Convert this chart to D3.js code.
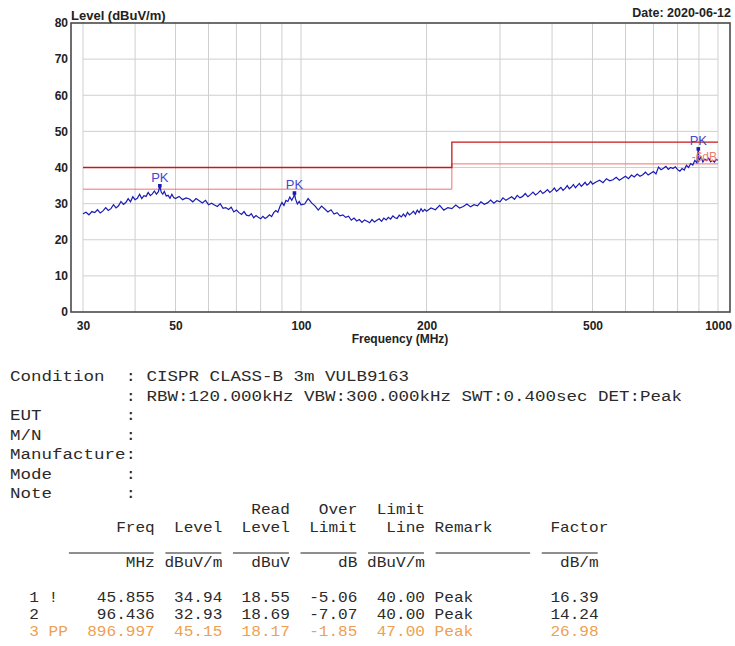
<!DOCTYPE html>
<html>
<head>
<meta charset="utf-8">
<script src="https://cdn.jsdelivr.net/npm/d3@7"></script>
<style>
  body { margin: 0; background: #fff; }
  svg { display: block; }
</style>
</head>
<body>
<svg id="chart" width="735" height="646"></svg>
<script>
// measured trace, [MHz, dBuV/m]
const trace = [
[30,27.2],[30.5,27.6],[31,26.9],[31.5,27.8],[32,27.5],[32.5,28.3],[33,27.4],[33.5,28.0],[34,28.9],[34.5,28.1],[35,28.6],[35.5,29.7],[36,28.8],[36.5,29.4],[37,30.6],[37.5,29.8],[38,30.3],[38.5,31.4],[39,30.5],[39.5,31.9],[40,31.1],[40.5,31.5],[41,32.6],[41.5,31.4],[42,32.2],[42.5,32.0],[43,33.1],[43.5,32.2],[44,32.7],[44.5,33.5],[45,32.6],[45.5,33.3],[45.855,34.94],[46.2,33.2],[46.6,32.6],[47,33.4],[47.5,32.1],[48,32.3],[48.5,31.5],[49,32.6],[49.5,31.7],[50,31.4],
[51,32.0],[52,31.1],[53,31.6],[54,31.3],[55,30.5],[56,31.4],[57,30.8],[58,30.2],[59,30.9],[60,29.7],[61,30.1],[62,29.6],[63,29.2],[64,30.0],[65,28.7],[66,28.9],[67,28.4],[68,29.0],[69,27.7],[70,28.2],[71,27.5],[72,27.0],[73,27.8],[74,26.8],[75,26.6],[76,27.2],[77,26.1],[78,26.7],[79,26.2],[80,25.8],[81,26.5],[82,25.9],[83,26.3],[84,26.9],[85,26.4],[86,27.5],[87,28.1],[88,27.6],[89,29.2],[90,30.3],[91,29.5],[92,30.9],[93,30.6],[94,31.8],[95,30.9],[96,31.9],[96.436,32.93],[97,31.3],[98,29.9],[99,30.6],[100,29.7],
[102,29.9],[104,31.4],[106,30.2],[108,29.4],[110,28.2],[112,29.3],[114,28.5],[116,27.7],[118,28.3],[120,27.1],[122,27.5],[124,26.6],[126,26.9],[128,26.2],[130,26.5],[132,25.4],[134,26.0],[136,25.2],[138,25.6],[140,24.8],[142,25.5],[144,25.1],[146,24.7],[148,25.6],[150,24.9],[152,25.4],[154,25.8],[156,25.1],[158,26.0],[160,25.5],[162,26.2],[164,25.7],[166,26.6],[168,26.1],[170,25.9],[172,26.8],[174,26.3],[176,27.1],[178,26.4],[180,27.6],[182,26.9],[184,27.3],[186,27.9],[188,27.1],[190,28.2],[192,27.5],[194,28.6],[196,27.8],[198,28.4],[200,27.9],
[205,28.8],[210,28.3],[215,29.5],[220,28.2],[225,28.9],[230,28.6],[235,29.6],[240,28.8],[245,29.2],[250,29.9],[255,29.1],[260,29.7],[265,29.4],[270,30.5],[275,29.8],[280,30.2],[285,31.0],[290,30.1],[295,30.8],[300,30.5],[305,31.6],[310,30.9],[315,31.4],[320,31.9],[325,31.2],[330,32.3],[335,31.6],[340,32.0],[345,32.8],[350,31.9],[355,32.5],[360,33.2],[365,32.4],[370,32.9],[375,33.6],[380,32.8],[385,33.3],[390,33.9],[395,33.1],[400,33.6],[405,34.3],[410,33.4],[415,33.9],[420,34.5],[425,33.7],[430,34.2],[435,35.0],[440,34.1],[445,34.6],[450,35.3],[455,34.4],[460,35.0],[465,35.6],[470,34.8],[475,35.3],[480,35.9],[485,35.1],[490,35.5],[495,36.2],[500,35.4],
[510,36.0],[520,36.5],[530,35.8],[540,36.9],[550,36.3],[560,36.6],[570,37.3],[580,36.5],[590,37.0],[600,37.6],[610,36.9],[620,37.9],[630,37.4],[640,38.2],[650,37.6],[660,38.0],[670,38.7],[680,37.9],[690,38.4],[700,38.9],[710,38.2],[720,40.1],[730,39.4],[740,39.8],[750,40.3],[760,39.5],[770,40.0],[780,39.7],[790,40.2],[800,39.4],[810,39.0],[820,39.7],[830,39.3],[840,40.6],[850,40.0],[860,41.1],[870,40.7],[880,42.0],[890,41.3],[896.997,45.15],[900,41.8],[910,42.9],[920,41.5],[930,42.3],[940,41.9],[950,42.6],[960,41.6],[970,42.0],[980,41.5],[990,42.2],[1000,42.0]
];

const limitLine  = [[30,40],[230,40],[230,47],[1000,47]];
const marginLine = [[30,34],[230,34],[230,41],[1000,41]];

const xTicks   = [30,50,100,200,500,1000];
const xGrid    = [30,40,50,60,70,80,90,100,200,300,400,500,600,700,800,900,1000];
const yTicks   = [0,10,20,30,40,50,60,70,80];

const headerLines = [
  "Condition  : CISPR CLASS-B 3m VULB9163",
  "           : RBW:120.000kHz VBW:300.000kHz SWT:0.400sec DET:Peak",
  "EUT        :",
  "M/N        :",
  "Manufacture:",
  "Mode       :",
  "Note       :"
];
const tableHead = [
  "                         Read   Over  Limit",
  "           Freq  Level  Level  Limit   Line Remark      Factor",
  "",
  "            MHz dBuV/m   dBuV     dB dBuV/m              dB/m"
];
const rows = [
  {no:"1", flag:"!",  freq:45.855,  level:34.94, read:18.55, over:-5.06, limit:40.00, remark:"Peak", factor:16.39},
  {no:"2", flag:"",   freq:96.436,  level:32.93, read:18.69, over:-7.07, limit:40.00, remark:"Peak", factor:14.24},
  {no:"3", flag:"PP", freq:896.997, level:45.15, read:18.17, over:-1.85, limit:47.00, remark:"Peak", factor:26.98}
];

const svg = d3.select("#chart");
const pLeft = 71, pRight = 730, pTop = 23, pBottom = 312;

const x = d3.scaleLog().domain([30,1000]).range([83,718]);
const y = d3.scaleLinear().domain([0,80]).range([pBottom,pTop]);

// grid
svg.append("g").selectAll("line").data(xGrid).join("line")
   .attr("x1", d => x(d)).attr("x2", d => x(d))
   .attr("y1", pTop).attr("y2", pBottom)
   .attr("stroke", "#cfcfcf").attr("stroke-width", 1);
svg.append("g").selectAll("line").data(yTicks.slice(1,-1)).join("line")
   .attr("x1", x(30)).attr("x2", x(1000))
   .attr("y1", d => y(d)).attr("y2", d => y(d))
   .attr("stroke", "#cfcfcf").attr("stroke-width", 1);

// frame
svg.append("rect")
   .attr("x", pLeft).attr("y", pTop)
   .attr("width", pRight-pLeft).attr("height", pBottom-pTop)
   .attr("fill", "none").attr("stroke", "#4a4a4a").attr("stroke-width", 1.6);

const line = d3.line().x(d => x(d[0])).y(d => y(d[1]));

svg.append("path").datum(marginLine)
   .attr("d", line).attr("fill","none")
   .attr("stroke", "#ec7272").attr("stroke-width", 1);
svg.append("path").datum(limitLine)
   .attr("d", line).attr("fill","none")
   .attr("stroke", "#c81818").attr("stroke-width", 1.3);

svg.append("path").datum(trace)
   .attr("d", line).attr("fill","none")
   .attr("stroke", "#1a1ab4").attr("stroke-width", 1.2);

// peak markers
const pk = svg.append("g").selectAll("g").data(rows).join("g")
   .attr("transform", d => `translate(${x(d.freq)},${y(d.level)})`);
pk.append("rect").attr("x",-1.8).attr("y",-1.8).attr("width",3.6).attr("height",3.6)
   .attr("fill","#1a1ab4");
pk.append("text").attr("y",-4).attr("text-anchor","middle")
   .style("font-family","'Liberation Sans', Arial, sans-serif")
   .style("font-size","13px").attr("fill","#4646d2")
   .text("PK");

svg.append("text")
   .attr("x", x(1000) - 1).attr("y", y(marginLine[3][1]) - 3)
   .attr("text-anchor","end")
   .style("font-family","'Liberation Sans', Arial, sans-serif")
   .style("font-size","12px").attr("fill","#f07a6a")
   .text("-6dB");

// axes
const axisFont = g => g.selectAll("text")
   .style("font-family","'Liberation Sans', Arial, sans-serif")
   .style("font-size","12px").style("font-weight","bold").attr("fill","#222");

svg.append("g").attr("transform", `translate(${pLeft},0)`)
   .call(d3.axisLeft(y).tickValues(yTicks).tickSize(0).tickPadding(3))
   .call(g => g.select(".domain").remove())
   .call(axisFont);

svg.append("g").attr("transform", `translate(0,${pBottom})`)
   .call(d3.axisBottom(x).tickValues(xTicks).tickFormat(d3.format("d")).tickSize(0).tickPadding(9.5))
   .call(g => g.select(".domain").remove())
   .call(axisFont);

const bold = s => s.style("font-family","'Liberation Sans', Arial, sans-serif")
                   .style("font-weight","bold").attr("fill","#222");

svg.append("text").attr("x", 71).attr("y", 19.5)
   .style("font-size","13px").call(bold).text("Level (dBuV/m)");
svg.append("text").attr("x", 731).attr("y", 17).attr("text-anchor","end")
   .style("font-size","12.5px").call(bold).text("Date: 2020-06-12");
svg.append("text").attr("x", 400).attr("y", 343).attr("text-anchor","middle")
   .style("font-size","12px").call(bold).text("Frequency (MHz)");

// text report below the plot
const mono = "'Liberation Mono', 'Courier New', monospace";
const x0 = 10;

function monoLine(str, yPos, cw, size, color) {
  if (!str.length) return;
  svg.append("text")
     .attr("x", x0).attr("y", yPos)
     .attr("xml:space","preserve")
     .style("white-space","pre")
     .style("font-family", mono).style("font-size", size + "px")
     .attr("fill", color)
     .attr("textLength", str.length * cw)
     .attr("lengthAdjust","spacingAndGlyphs")
     .text(str);
}

const headerY = [381, 400.5, 420, 439.5, 459, 478.5, 498];
headerLines.forEach((s,i) => monoLine(s, headerY[i], 10.5, 14.5, "#2a2a2a"));

const cw = 9.65;
const headY = [514, 532, 0, 567];
tableHead.forEach((s,i) => monoLine(s, headY[i], cw, 15, "#2a2a2a"));

// underlines, in character columns
const underCols = [[6,15],[16,22],[23,29],[30,36],[37,43],[44,54],[55,61]];
svg.append("g").selectAll("line").data(underCols).join("line")
   .attr("x1", d => x0 + d[0]*cw + 1).attr("x2", d => x0 + d[1]*cw - 1)
   .attr("y1", 553).attr("y2", 553)
   .attr("stroke", "#6a6a6a").attr("stroke-width", 1.4);

const rowY = [602, 619, 636];
rows.forEach((r,i) => {
  const prefix = "  " + r.no + " " + r.flag;
  const s = prefix + String(r.freq.toFixed(3)).padStart(15 - prefix.length)
          + r.level.toFixed(2).padStart(7)
          + r.read.toFixed(2).padStart(7)
          + r.over.toFixed(2).padStart(7)
          + r.limit.toFixed(2).padStart(7)
          + " " + r.remark
          + r.factor.toFixed(2).padStart(13);
  monoLine(s, rowY[i], cw, 15, r.flag === "PP" ? "#eea050" : "#2a2a2a");
});
</script>
</body>
</html>
